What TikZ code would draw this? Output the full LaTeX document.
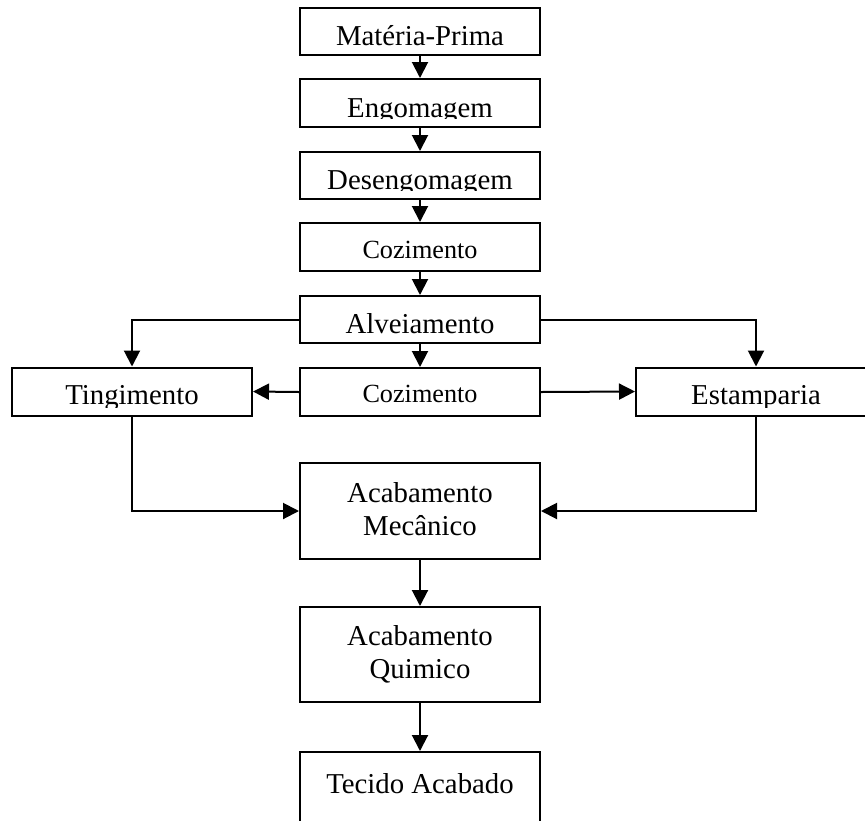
\documentclass[tikz,border=0pt]{standalone}
\usepackage{fontspec}
\setmainfont{Liberation Serif}
\usetikzlibrary{arrows.meta}
\tikzset{
  box/.style={draw, line width=2pt, inner sep=0pt, minimum width=240pt},
  lbl/.style={inner sep=0pt, anchor=base, align=center, font=\fontsize{28.8}{33}\selectfont},
  lbls/.style={lbl, font=\fontsize{26.2}{30}\selectfont},
  arr/.style={line width=2pt, -{Triangle[length=16pt,width=16pt]}},
}
\newcommand\cliplabel[5]{%
  \begin{scope}
    \clip ([yshift=9.5pt]#1.south west) rectangle (#1.north east);
    \node[#2] (#1t) at (#3,#4) {#5};
  \end{scope}}
\begin{document}
\begin{tikzpicture}[x=1pt,y=-1pt]
\useasboundingbox (0,0) rectangle (865,820);
% boxes
\node[box, minimum height=47pt] (mp)   at (420,31.5) {};
\node[box, minimum height=48pt] (eng)  at (420,103) {};
\node[box, minimum height=47pt] (des)  at (420,175.5) {};
\node[box, minimum height=48pt] (coza) at (420,247) {};
\node[box, minimum height=47pt] (alv)  at (420,319.5) {};
\node[box, minimum height=48pt] (cozb) at (420,392) {};
\node[box, minimum height=48pt] (ting) at (132,391.5) {};
\node[box, minimum height=48pt] (est)  at (756,391.5) {};
\node[box, minimum height=96pt] (am)   at (420,511) {};
\node[box, minimum height=95pt] (aq)   at (420,654.5) {};
\node[box, minimum height=96pt] (ta)   at (420,800) {};
% labels
\cliplabel{mp}{lbl}{420}{45}{Matéria-Prima}
\cliplabel{eng}{lbl}{420}{117}{Engomagem}
\cliplabel{des}{lbl}{420}{189}{Desengomagem}
\cliplabel{coza}{lbls}{420}{258}{Cozimento}
\cliplabel{alv}{lbl}{420}{333}{Alveiamento}
\cliplabel{cozb}{lbls}{420}{402}{Cozimento}
\cliplabel{ting}{lbl}{132}{404}{Tingimento}
\cliplabel{est}{lbl}{756}{404}{Estamparia}
\cliplabel{am}{lbl}{420}{535}{Acabamento\\Mecânico}
\cliplabel{aq}{lbl}{420}{678}{Acabamento\\Quimico}
\cliplabel{ta}{lbl}{420}{793}{Tecido Acabado}
% connectors
\draw[arr] (mp.south) -- (eng.north);
\draw[arr] (eng.south) -- (des.north);
\draw[arr] (des.south) -- (coza.north);
\draw[arr] (coza.south) -- (alv.north);
\draw[arr] (alv.south) -- (cozb.north);
\draw[arr] (alv.west) -| (ting.north);
\draw[arr] (alv.east) -| (est.north);
\draw[arr] (cozb.west) -- (ting.east);
\draw[arr] (cozb.east) -- (est.west);
\draw[arr] (ting.south) |- (am.west);
\draw[arr] (est.south) |- (am.east);
\draw[arr] (am.south) -- (aq.north);
\draw[arr] (aq.south) -- (ta.north);
\end{tikzpicture}
\end{document}
